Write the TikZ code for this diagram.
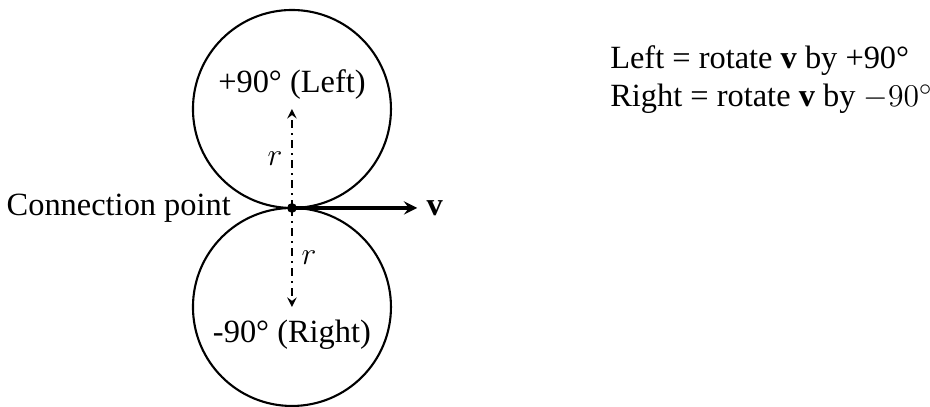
\documentclass[tikz,border=0pt]{standalone}
\usepackage{fontspec}
\setmainfont{Liberation Serif}

\begin{document}
\begin{tikzpicture}[font=\fontsize{12.3}{14.4}\selectfont]
    \useasboundingbox (-3.893,-2.653) rectangle (8.507,2.773);

    % Точка касания и центры окружностей
    \coordinate (P) at (0,0);
    \coordinate (CL) at (0,1.32);
    \coordinate (CR) at (0,-1.32);

    % Окружности
    \draw[line width=0.8pt] (CL) circle (1.32);
    \draw[line width=0.8pt] (CR) circle (1.32);

    % Радиусы
    \draw[line width=0.6pt, dash dot, -stealth] (P) -- (CL) node[midway, left] {$r$};
    \draw[line width=0.6pt, dash dot, -stealth] (P) -- (CR) node[midway, right] {$r$};

    % Вектор скорости
    \coordinate (vend) at (1.67,0);
    \draw[line width=1.2pt, -stealth] (P) -- (vend);
    \node[right] (vlab) at (vend) {\textbf{v}};

    % Точка и подписи
    \fill (P) circle (0.065);
    \node[left=0.69cm] (cp) at (P) {Connection point};
    \node (left) at (0,1.64) {+90° (Left)};
    \node (right) at (0,-1.69) {-90° (Right)};

    % Пояснение
    \node[anchor=west, align=left] (rule) at (4.12,1.71)
        {Left = rotate \textbf{v} by +90°\\Right = rotate \textbf{v} by $-90^\circ$};
\end{tikzpicture}
\end{document}
